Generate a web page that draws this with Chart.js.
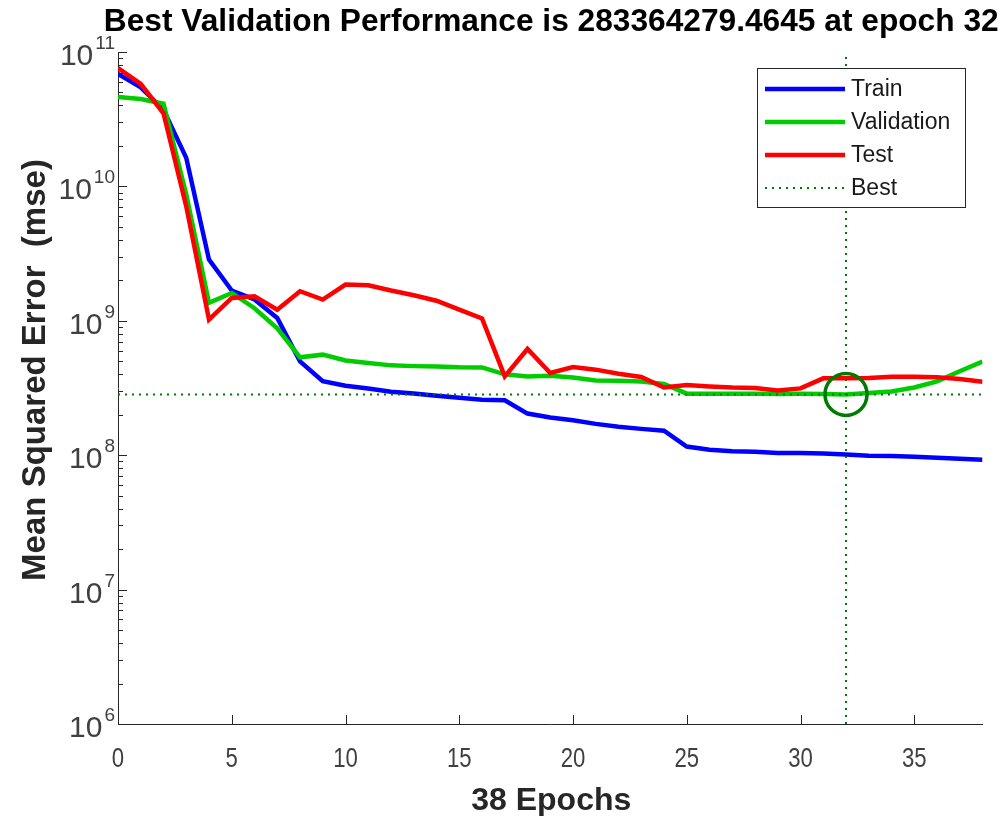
<!DOCTYPE html>
<html>
<head>
<meta charset="utf-8">
<script src="https://cdn.jsdelivr.net/npm/chart.js@4.4.1/dist/chart.umd.min.js"></script>
<style>
html, body { margin: 0; padding: 0; background: #fff; }
</style>
</head>
<body>
<canvas id="perf" width="1007" height="816"></canvas>
<script>
const epochs = [0, 1, 2, 3, 4, 5, 6, 7, 8, 9, 10, 11, 12, 13, 14, 15, 16, 17, 18, 19,
    20, 21, 22, 23, 24, 25, 26, 27, 28, 29, 30, 31, 32, 33, 34, 35, 36, 37, 38];

const trainMse = [6.86e10, 5.45e10, 3.72e10, 1.63e10, 2.85e9, 1.68e9, 1.44e9, 1.05e9, 4.99e8, 3.55e8,
    3.29e8, 3.13e8, 2.97e8, 2.88e8, 2.77e8, 2.68e8, 2.59e8, 2.56e8, 2.04e8, 1.91e8,
    1.82e8, 1.71e8, 1.63e8, 1.57e8, 1.52e8, 1.16e8, 1.10e8, 1.07e8, 1.06e8, 1.04e8,
    1.04e8, 1.03e8, 1.01e8, 9.9e7, 9.86e7, 9.75e7, 9.57e7, 9.4e7, 9.24e7];

const valMse = [4.63e10, 4.47e10, 4.12e10, 8.7e9, 1.36e9, 1.61e9, 1.24e9, 8.8e8, 5.35e8, 5.6e8,
    5.07e8, 4.85e8, 4.66e8, 4.6e8, 4.58e8, 4.52e8, 4.5e8, 4.0e8, 3.85e8, 3.9e8,
    3.79e8, 3.6e8, 3.58e8, 3.54e8, 3.39e8, 2.87e8, 2.86e8, 2.86e8, 2.86e8, 2.85e8,
    2.86e8, 2.85e8, 283364279.4645, 2.9e8, 2.98e8, 3.19e8, 3.54e8, 4.21e8, 4.97e8];

const testMse = [7.6e10, 5.78e10, 3.5e10, 7.1e9, 1.02e9, 1.48e9, 1.52e9, 1.21e9, 1.66e9, 1.44e9,
    1.86e9, 1.84e9, 1.68e9, 1.55e9, 1.41e9, 1.21e9, 1.04e9, 3.86e8, 6.17e8, 4.09e8,
    4.53e8, 4.33e8, 4.04e8, 3.82e8, 3.19e8, 3.33e8, 3.25e8, 3.19e8, 3.16e8, 3.03e8,
    3.14e8, 3.73e8, 3.74e8, 3.76e8, 3.84e8, 3.84e8, 3.8e8, 3.69e8, 3.52e8];

const bestEpoch = 32;
const bestPerf = 283364279.4645;

const xTicks = [0, 5, 10, 15, 20, 25, 30, 35];
const yPowers = [6, 7, 8, 9, 10, 11];
const minorSteps = [2, 3, 4, 5, 6, 7, 8, 9];

const titleText = 'Best Validation Performance is 283364279.4645 at epoch 32';
const xTitle = '38 Epochs';
const yTitle = 'Mean Squared Error  (mse)';
const legendNames = ['Train', 'Validation', 'Test', 'Best'];

const BLUE = '#0000ff', GREEN = '#00cc00', RED = '#ff0000', DKGREEN = '#007a00';
const AXIS = '#262626', TICKTXT = '#404040';
const SANS = '"Liberation Sans", Arial, sans-serif';

const pts = arr => epochs.map((e, i) => ({ x: e, y: arr[i] }));

const decor = {
    id: 'decor',
    afterDraw(chart) {
        const { ctx, chartArea: a, scales: { x, y } } = chart;
        ctx.save();
        ctx.strokeStyle = AXIS;
        ctx.lineWidth = 1;

        // inward ticks on the y axis
        ctx.beginPath();
        yPowers.forEach(p => {
            const py = Math.round(y.getPixelForValue(Math.pow(10, p))) + 0.5;
            ctx.moveTo(a.left, py); ctx.lineTo(a.left + 9, py);
            if (p < 11) minorSteps.forEach(m => {
                const my = Math.round(y.getPixelForValue(m * Math.pow(10, p))) + 0.5;
                ctx.moveTo(a.left, my); ctx.lineTo(a.left + 5, my);
            });
        });
        // inward ticks on the x axis
        xTicks.forEach(t => {
            const px = Math.round(x.getPixelForValue(t)) + 0.5;
            ctx.moveTo(px, a.bottom); ctx.lineTo(px, a.bottom - 9);
        });
        ctx.stroke();

        // y tick labels 10^n
        ctx.fillStyle = TICKTXT;
        yPowers.forEach(p => {
            const py = y.getPixelForValue(Math.pow(10, p));
            ctx.font = '30px ' + SANS;
            const wb = ctx.measureText('10').width;
            ctx.font = '19px ' + SANS;
            const we = ctx.measureText(String(p)).width;
            const right = 115;
            ctx.textAlign = 'left';
            ctx.textBaseline = 'alphabetic';
            ctx.font = '30px ' + SANS;
            ctx.fillText('10', right - we - wb - 2, py + 13);
            ctx.font = '19px ' + SANS;
            ctx.fillText(String(p), right - we, py - 3);
        });

        // x tick labels, condensed like the original
        ctx.font = '27px ' + SANS;
        ctx.textAlign = 'center';
        xTicks.forEach(t => {
            ctx.save();
            ctx.translate(x.getPixelForValue(t), 767);
            ctx.scale(0.82, 1);
            ctx.fillText(String(t), 0, 0);
            ctx.restore();
        });

        // titles
        ctx.fillStyle = '#000';
        ctx.font = 'bold 31.7px ' + SANS;
        ctx.fillText(titleText, (a.left + a.right) / 2 + 1, 31);
        ctx.fillStyle = AXIS;
        ctx.font = 'bold 32px ' + SANS;
        ctx.fillText(xTitle, (a.left + a.right) / 2 + 1, 810);
        ctx.save();
        ctx.translate(45, 370);
        ctx.rotate(-Math.PI / 2);
        ctx.font = 'bold 33px ' + SANS;
        ctx.fillText(yTitle, 0, 0);
        ctx.restore();

        // legend
        const lx = 757, ly = 68, lw = 208, lh = 139;
        ctx.fillStyle = '#fff';
        ctx.fillRect(lx, ly, lw, lh);
        ctx.strokeStyle = AXIS;
        ctx.lineWidth = 1;
        ctx.strokeRect(lx + 0.5, ly + 0.5, lw, lh);
        const sets = chart.data.datasets;
        ctx.font = '23px ' + SANS;
        ctx.textAlign = 'left';
        ctx.textBaseline = 'middle';
        legendNames.forEach((name, i) => {
            const ds = sets[i];
            const ry = 89 + i * 33;
            ctx.strokeStyle = ds.borderColor;
            ctx.lineWidth = ds.borderWidth;
            ctx.setLineDash(ds.borderDash || []);
            ctx.beginPath();
            ctx.moveTo(765, ry); ctx.lineTo(845, ry);
            ctx.stroke();
            ctx.setLineDash([]);
            ctx.fillStyle = '#1a1a1a';
            ctx.fillText(name, 851, ry + 1);
        });
        ctx.restore();
    }
};

new Chart(document.getElementById('perf'), {
    type: 'line',
    data: {
        datasets: [
            { label: 'Train', data: pts(trainMse), borderColor: BLUE, borderWidth: 4.5, pointRadius: 0, order: 4 },
            { label: 'Validation', data: pts(valMse), borderColor: GREEN, borderWidth: 4.5, pointRadius: 0, order: 3 },
            { label: 'Test', data: pts(testMse), borderColor: RED, borderWidth: 4.5, pointRadius: 0, order: 2 },
            { label: 'Best', data: [{ x: bestEpoch, y: 1e6 }, { x: bestEpoch, y: 1e11 }],
              borderColor: DKGREEN, borderWidth: 2, borderDash: [2, 5], pointRadius: 0, order: 1 },
            { label: 'BestH', data: [{ x: 0, y: bestPerf }, { x: 38, y: bestPerf }],
              borderColor: DKGREEN, borderWidth: 2, borderDash: [2, 5], pointRadius: 0, order: 1 },
            { label: 'BestPt', data: [{ x: bestEpoch, y: bestPerf }], showLine: false,
              pointRadius: 21, pointBorderWidth: 3.5, pointBorderColor: DKGREEN,
              pointBackgroundColor: 'rgba(0,0,0,0)', borderColor: DKGREEN, order: 0 }
        ]
    },
    options: {
        responsive: false,
        animation: false,
        devicePixelRatio: 1,
        layout: { padding: { left: 0, right: 21, top: 52, bottom: 0 } },
        plugins: { legend: { display: false }, title: { display: false }, tooltip: { enabled: false } },
        scales: {
            x: {
                type: 'linear', min: 0, max: 38,
                grid: { display: false, drawTicks: false },
                ticks: { display: false },
                border: { display: true, color: AXIS, width: 1 },
                afterFit: s => { s.height = 92; }
            },
            y: {
                type: 'logarithmic', min: 1e6, max: 1e11,
                grid: { display: false, drawTicks: false },
                ticks: { display: false },
                border: { display: true, color: AXIS, width: 1 },
                afterFit: s => { s.width = 118; }
            }
        }
    },
    plugins: [decor]
});
</script>
</body>
</html>
